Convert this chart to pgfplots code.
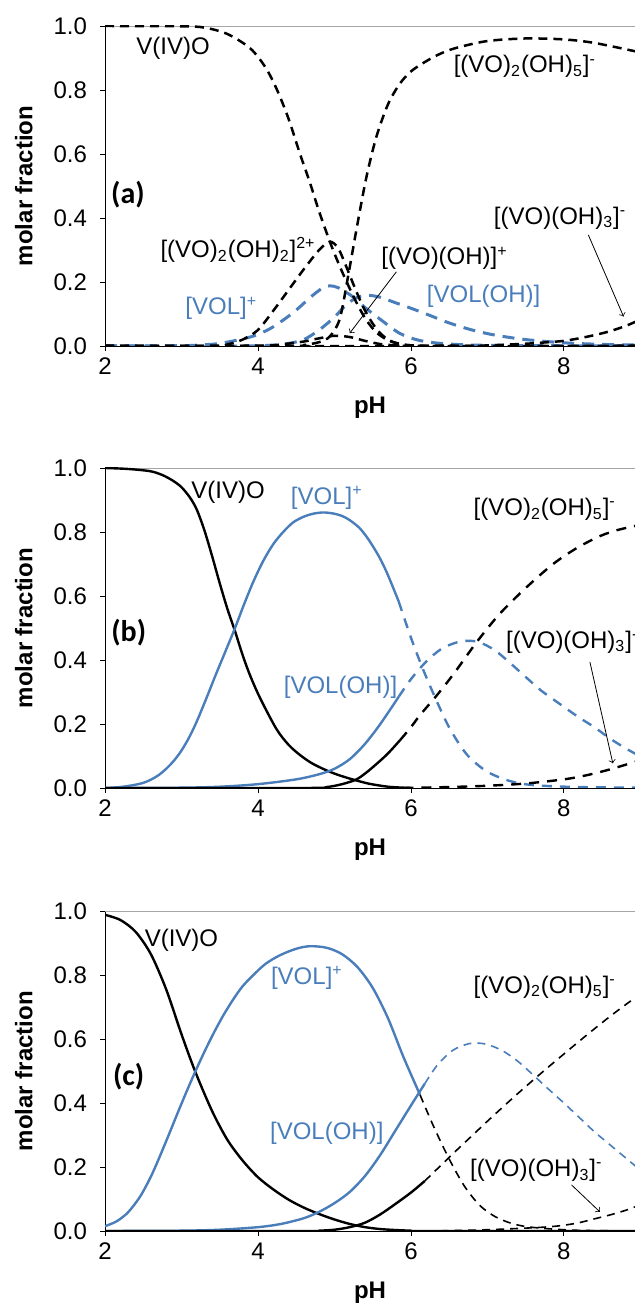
\documentclass[border=0pt]{standalone}
\usepackage{fontspec}
\setmainfont{Liberation Sans}
\newfontfamily\calfont{Carlito}
\usepackage{pgfplots}
\pgfplotsset{compat=1.18}
\definecolor{vblue}{RGB}{74,126,187}
\pgfplotsset{
 myax/.style={
  scale only axis, width=265pt, height=160pt,
  xmin=2, xmax=8.93, ymin=0, ymax=1,
  xtick={2,4,6,8}, ytick={0,0.2,0.4,0.6,0.8,1.0},
  axis x line=bottom, axis y line=left, axis line style={-, black},
  tick align=outside, major tick length=2.5pt,
  tick style={black, thin},
  /pgf/number format/assume math mode=true,
  yticklabel style={/pgf/number format/fixed, /pgf/number format/fixed zerofill, /pgf/number format/precision=1, xshift=-3pt},
  ticklabel style={font=\fontsize{12}{14}\selectfont},
  xlabel={\textbf{pH}}, ylabel={\textbf{molar fraction}},
  every axis x label/.style={at={(axis description cs:0.5,-0.194)}, anchor=center, font=\fontsize{12}{14}\selectfont},
  every axis y label/.style={at={(axis description cs:-0.153,0.5)}, anchor=center, rotate=90, font=\fontsize{12}{14}\selectfont},
  clip mode=individual,
  every axis plot/.append style={smooth, tension=0.5, no markers},
 },
}
\tikzset{
 lab/.style={font=\fontsize{12}{14}\selectfont, inner sep=0pt},
 plab/.style={font=\calfont\bfseries\fontsize{15}{17}\selectfont, inner sep=0pt},
 da/.style={black, line width=1.25pt, dash pattern=on 4.5pt off 3pt},
 dba/.style={vblue, line width=1.5pt, dash pattern=on 6pt off 4pt},
 sk/.style={black, line width=1.2pt},
 sb/.style={vblue, line width=1.2pt},
 db/.style={black, line width=1.2pt, dash pattern=on 5pt off 4pt},
 dbb/.style={vblue, line width=1.2pt, dash pattern=on 5pt off 4pt},
 dc/.style={black, line width=0.8pt, dash pattern=on 4pt off 3pt},
 dcb/.style={vblue, line width=0.8pt, dash pattern=on 4pt off 3pt},
}
\begin{document}
\begin{tikzpicture}
\path[use as bounding box] (0,0) rectangle (317.5pt,653pt);
% ---------------- (a)
\begin{axis}[myax, at={(52.5pt,480pt)}, anchor=south west]
\draw[gray!70] (rel axis cs:0,1) -- (rel axis cs:1,1);
% VOL+
\addplot[dba] coordinates {(2,0)(3.0,0.001)(3.3,0.004)(3.5,0.008)(3.8,0.022)(4.0,0.036)(4.2,0.06)(4.46,0.104)(4.7,0.155)(4.85,0.182)(4.94,0.188)(5.05,0.182)(5.24,0.154)(5.4,0.12)(5.59,0.085)(5.85,0.04)(6.1,0.018)(6.4,0.008)(7,0.002)(9,0)};
% VOL(OH)
\addplot[dba] coordinates {(2,0)(3.8,0)(4.2,0.003)(4.4,0.008)(4.6,0.02)(4.8,0.05)(5.0,0.09)(5.15,0.128)(5.3,0.152)(5.45,0.158)(5.6,0.152)(5.8,0.135)(6.0,0.118)(6.2,0.1)(6.5,0.072)(6.8,0.05)(7.1,0.034)(7.5,0.02)(8.0,0.01)(8.5,0.005)(8.95,0.003)};
% V(IV)O
\addplot[da] coordinates {(2,1.0)(3,0.999)(3.3,0.995)(3.6,0.975)(3.9,0.93)(4.1,0.87)(4.25,0.8)(4.4,0.71)(4.55,0.6)(4.68,0.51)(4.8,0.42)(4.94,0.326)(5.05,0.26)(5.16,0.2)(5.3,0.13)(5.42,0.08)(5.55,0.042)(5.7,0.018)(5.85,0.007)(6.0,0.002)(6.5,0)(9,0)};
% (VO)2(OH)5-
\addplot[da] coordinates {(2,0)(4.4,0)(4.6,0.003)(4.8,0.012)(4.94,0.03)(5.07,0.085)(5.18,0.22)(5.3,0.38)(5.42,0.53)(5.55,0.655)(5.7,0.755)(5.85,0.818)(6.0,0.858)(6.2,0.89)(6.4,0.915)(6.6,0.932)(7.0,0.953)(7.5,0.961)(8.0,0.958)(8.4,0.947)(8.95,0.92)};
% (VO)2(OH)2 2+
\addplot[da] coordinates {(2,0)(3.4,0)(3.6,0.005)(3.8,0.02)(4.0,0.05)(4.2,0.11)(4.4,0.175)(4.6,0.24)(4.8,0.3)(4.94,0.326)(5.05,0.305)(5.16,0.245)(5.27,0.18)(5.38,0.12)(5.5,0.07)(5.62,0.035)(5.77,0.012)(6.0,0.002)(6.5,0)(9,0)};
% (VO)(OH)+
\addplot[da] coordinates {(2,0)(4.0,0.001)(4.3,0.005)(4.6,0.014)(4.8,0.024)(5.0,0.032)(5.2,0.028)(5.4,0.016)(5.6,0.006)(5.8,0.002)(6.1,0)(9,0)};
% (VO)(OH)3-
\addplot[da] coordinates {(2,0)(6.5,0)(7.0,0.002)(7.5,0.007)(7.8,0.012)(8.0,0.016)(8.2,0.024)(8.4,0.034)(8.6,0.046)(8.8,0.062)(8.95,0.077)};
\node[lab] at (axis cs:2.89,0.93) {V(IV)O};
\node[lab] at (axis cs:7.49,0.873) {[(VO)\textsubscript{2}(OH)\textsubscript{5}]\textsuperscript{-}};
\node[plab] at (axis cs:2.30,0.472) {(a)};
\node[lab] at (axis cs:3.74,0.30) {[(VO)\textsubscript{2}(OH)\textsubscript{2}]\textsuperscript{2+}};
\node[lab] at (axis cs:7.95,0.40) {[(VO)(OH)\textsubscript{3}]\textsuperscript{-}};
\node[lab] at (axis cs:6.44,0.274) {[(VO)(OH)]\textsuperscript{+}};
\node[lab, text=vblue] at (axis cs:6.95,0.154) {[VOL(OH)]};
\node[lab, text=vblue] at (axis cs:3.52,0.118) {[VOL]\textsuperscript{+}};
\draw[->, thin] (axis cs:5.81,0.232) -- (axis cs:5.2,0.04);
\draw[->, thin] (axis cs:8.32,0.347) -- (axis cs:8.78,0.092);
\end{axis}
% ---------------- (b)
\begin{axis}[myax, at={(52.5pt,259pt)}, anchor=south west]
\draw[gray!70] (rel axis cs:0,1) -- (rel axis cs:1,1);
% V(IV)O
\addplot[sk] coordinates {(2,1.0)(2.3,0.997)(2.59,0.99)(2.75,0.978)(2.89,0.96)(3.0,0.94)(3.11,0.908)(3.2,0.87)(3.3,0.805)(3.4,0.725)(3.5,0.64)(3.6,0.56)(3.7,0.49)(3.8,0.415)(3.9,0.35)(4.03,0.28)(4.24,0.185)(4.4,0.135)(4.55,0.103)(4.7,0.078)(4.85,0.06)(5.0,0.045)(5.15,0.033)(5.28,0.024)(5.46,0.013)(5.7,0.004)(5.9,0.001)(6.0,0)};
% VOL+
\addplot[sb] coordinates {(2,0)(2.2,0.003)(2.37,0.009)(2.5,0.016)(2.6,0.026)(2.7,0.04)(2.8,0.06)(2.9,0.085)(3.0,0.117)(3.1,0.158)(3.2,0.208)(3.33,0.283)(3.45,0.355)(3.58,0.43)(3.7,0.5)(3.82,0.575)(3.94,0.645)(4.07,0.71)(4.2,0.762)(4.33,0.8)(4.46,0.83)(4.6,0.848)(4.72,0.857)(4.85,0.861)(4.98,0.858)(5.1,0.85)(5.2,0.837)(5.33,0.812)(5.45,0.775)(5.59,0.72)(5.7,0.665)(5.84,0.583)};
\addplot[dbb] coordinates {(5.84,0.583)(6.0,0.47)(6.16,0.37)(6.34,0.27)(6.51,0.185)(6.73,0.105)(6.99,0.052)(7.29,0.022)(7.6,0.009)(8.17,0.003)(8.95,0.001)};
% VOL(OH)
\addplot[sb] coordinates {(2,0)(3.0,0.001)(3.5,0.004)(4.0,0.012)(4.5,0.027)(4.8,0.043)(5.0,0.06)(5.2,0.09)(5.4,0.138)(5.6,0.2)(5.84,0.285)};
\addplot[dbb] coordinates {(5.84,0.285)(6.0,0.34)(6.2,0.395)(6.4,0.435)(6.6,0.455)(6.75,0.46)(6.9,0.455)(7.1,0.43)(7.3,0.39)(7.5,0.347)(7.7,0.305)(7.95,0.262)(8.2,0.22)(8.4,0.19)(8.6,0.155)(8.8,0.125)(8.95,0.105)};
% (VO)2(OH)5-
\addplot[sk] coordinates {(2,0)(4.6,0)(4.9,0.003)(5.1,0.012)(5.28,0.026)(5.4,0.045)(5.55,0.075)(5.7,0.108)(5.86,0.15)};
\addplot[db] coordinates {(5.86,0.15)(6.0,0.19)(6.12,0.228)(6.34,0.29)(6.56,0.357)(6.86,0.456)(7.16,0.544)(7.51,0.627)(7.86,0.7)(8.17,0.75)(8.47,0.787)(8.7,0.806)(8.95,0.82)};
% (VO)(OH)3-
\addplot[db] coordinates {(5.9,0)(6.5,0.003)(7.0,0.007)(7.5,0.014)(8.0,0.027)(8.3,0.04)(8.6,0.058)(8.95,0.083)};
\node[lab] at (axis cs:3.61,0.923) {V(IV)O};
\node[lab, text=vblue] at (axis cs:4.9,0.907) {[VOL]\textsuperscript{+}};
\node[plab] at (axis cs:2.31,0.487) {(b)};
\node[lab, text=vblue] at (axis cs:5.08,0.316) {[VOL(OH)]};
\node[lab] at (axis cs:7.75,0.871) {[(VO)\textsubscript{2}(OH)\textsubscript{5}]\textsuperscript{-}};
\node[lab, anchor=west] at (axis cs:7.24,0.456) {[(VO)(OH)\textsubscript{3}]\textsuperscript{-}};
\draw[->, thin] (axis cs:8.34,0.394) -- (axis cs:8.64,0.077);
\end{axis}
% ---------------- (c)
\begin{axis}[myax, at={(52.5pt,37.5pt)}, anchor=south west]
\draw[gray!70] (rel axis cs:0,1) -- (rel axis cs:1,1);
% V(IV)O
\addplot[sk] coordinates {(2.0,0.988)(2.2,0.972)(2.4,0.935)(2.6,0.865)(2.8,0.755)(3.0,0.615)(3.18,0.498)(3.4,0.375)(3.6,0.285)(3.8,0.22)(4.0,0.168)(4.2,0.13)(4.4,0.098)(4.6,0.073)(4.8,0.053)(5.0,0.036)(5.2,0.022)(5.4,0.012)(5.6,0.006)(5.8,0.003)(6.0,0.001)(6.2,0)(9,0)};
% VOL+
\addplot[sb] coordinates {(2.0,0.015)(2.15,0.03)(2.3,0.058)(2.46,0.108)(2.6,0.17)(2.72,0.235)(2.85,0.31)(2.94,0.363)(3.06,0.432)(3.18,0.498)(3.3,0.56)(3.42,0.618)(3.55,0.675)(3.68,0.725)(3.8,0.765)(3.94,0.8)(4.1,0.835)(4.29,0.862)(4.5,0.882)(4.68,0.89)(4.9,0.885)(5.1,0.865)(5.3,0.825)(5.5,0.76)(5.7,0.665)(5.9,0.545)(6.12,0.425)};
\addplot[dc] coordinates {(6.12,0.425)(6.3,0.325)(6.5,0.225)(6.7,0.14)(6.9,0.08)(7.1,0.045)(7.3,0.025)(7.5,0.014)(7.8,0.007)(8.2,0.002)(8.95,0)};
% VOL(OH)
\addplot[sb] coordinates {(2,0)(3.0,0.001)(3.5,0.004)(4.0,0.012)(4.3,0.022)(4.6,0.04)(4.8,0.06)(5.0,0.087)(5.2,0.122)(5.4,0.172)(5.6,0.238)(5.8,0.315)(6.0,0.392)(6.18,0.46)};
\addplot[dcb] coordinates {(6.18,0.46)(6.35,0.52)(6.55,0.565)(6.75,0.585)(6.87,0.587)(7.0,0.583)(7.2,0.563)(7.4,0.53)(7.61,0.485)(7.8,0.443)(8.0,0.4)(8.2,0.355)(8.4,0.31)(8.6,0.27)(8.8,0.23)(8.95,0.2)};
% (VO)2(OH)5-
\addplot[sk] coordinates {(2,0)(4.6,0)(4.8,0.001)(5.0,0.004)(5.2,0.012)(5.4,0.026)(5.6,0.052)(5.8,0.085)(6.0,0.12)(6.18,0.156)};
\addplot[dc] coordinates {(6.18,0.156)(6.4,0.207)(6.6,0.253)(6.8,0.298)(7.0,0.343)(7.2,0.387)(7.4,0.43)(7.6,0.472)(7.8,0.513)(8.0,0.553)(8.2,0.593)(8.4,0.632)(8.6,0.67)(8.8,0.706)(8.95,0.732)};
% (VO)(OH)3-
\addplot[dc] coordinates {(6.2,0)(6.5,0.001)(7.0,0.004)(7.5,0.009)(7.8,0.013)(8.0,0.018)(8.2,0.026)(8.4,0.038)(8.6,0.05)(8.8,0.064)(8.95,0.077)};
\node[lab] at (axis cs:3.0,0.909) {V(IV)O};
\node[lab, text=vblue] at (axis cs:4.64,0.79) {[VOL]\textsuperscript{+}};
\node[plab] at (axis cs:2.31,0.482) {(c)};
\node[lab, text=vblue] at (axis cs:4.9,0.305) {[VOL(OH)]};
\node[lab] at (axis cs:7.75,0.763) {[(VO)\textsubscript{2}(OH)\textsubscript{5}]\textsuperscript{-}};
\node[lab] at (axis cs:7.64,0.19) {[(VO)(OH)\textsubscript{3}]\textsuperscript{-}};
\draw[->, thin] (axis cs:8.1,0.144) -- (axis cs:8.47,0.06);
\end{axis}
\end{tikzpicture}
\end{document}
